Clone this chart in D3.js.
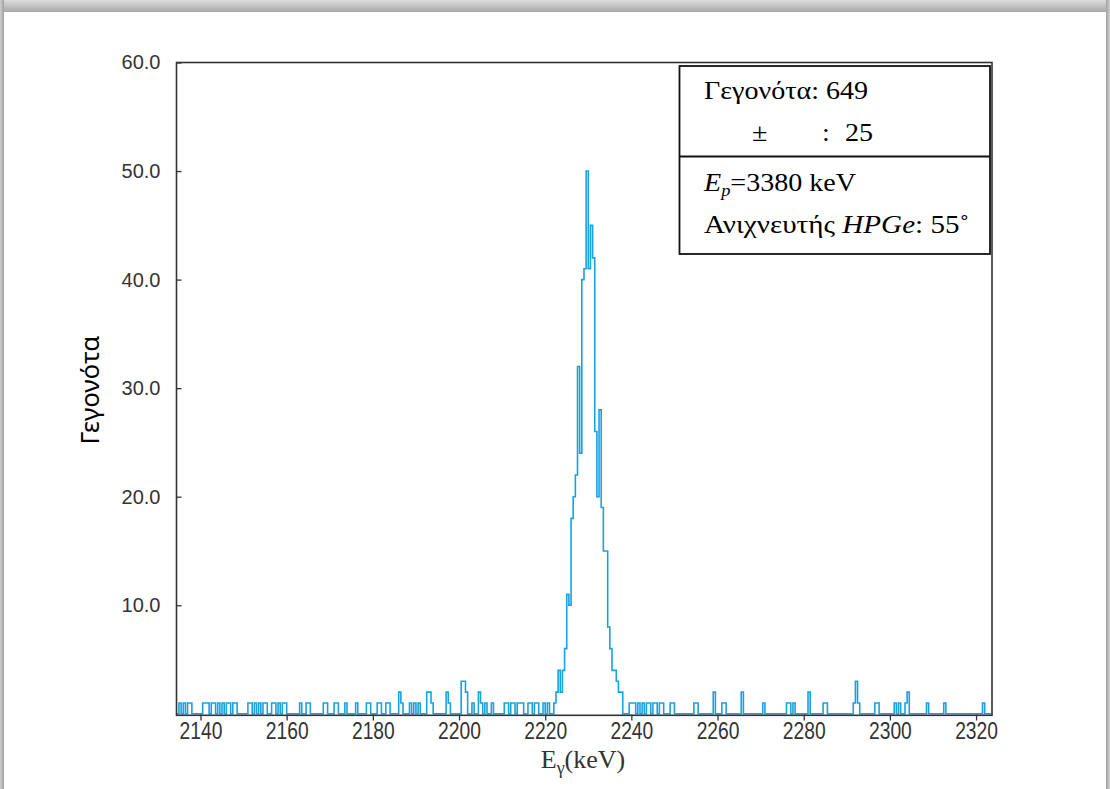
<!DOCTYPE html>
<html><head><meta charset="utf-8">
<script src="https://cdn.jsdelivr.net/npm/d3@7"></script>
<style>
html,body{margin:0;padding:0;background:#fff;}
svg{display:block;}
</style></head>
<body>
<svg id="chart" width="1110" height="789"></svg>
<script>
// ---------- data ----------
const xTickValues = [2140, 2160, 2180, 2200, 2220, 2240, 2260, 2280, 2300, 2320];
const yTickValues = [10, 20, 30, 40, 50, 60];
const binWidth = 0.5;          // keV per bin
const histStart = 2134.5;      // first bin edge (keV)
const histEnd = 2323.5;        // last bin edge (keV)
const peakStart = 2222.0;      // first bin of the peak (keV)
const peakCounts = [1, 2, 4, 2, 4, 6, 11, 10, 18, 20, 22, 32, 24, 40, 41, 50,
                    41, 45, 42, 26, 20, 28, 19, 15, 15, 8, 6, 4, 4, 3, 2, 2];
const bgEnergies = [2135.0, 2136.0, 2137.0, 2137.5,
  2140.5, 2141.0, 2141.5, 2142.5, 2143.0, 2144.0, 2145.0,
  2146.0, 2146.5, 2147.5, 2148.0,
  2151.0, 2151.5, 2152.5, 2153.5, 2154.5, 2155.0,
  2156.5, 2157.0, 2158.0, 2159.0, 2159.5,
  2163.0, 2164.5, 2165.0, 2168.5, 2169.0, 2171.0, 2171.5, 2173.5, 2176.0,
  2178.5, 2179.0, 2181.0, 2181.5, 2183.0, 2183.5,
  2186.0, 2186.5, 2188.5, 2189.5, 2190.5,
  2192.5, 2193.0, 2193.5, 2197.0, 2197.5,
  2200.5, 2201.0, 2201.5, 2203.0, 2204.5, 2205.0, 2206.0, 2207.5,
  2210.5, 2211.0, 2212.0, 2212.5, 2213.5, 2214.0, 2214.5,
  2216.0, 2216.5, 2217.5, 2218.0, 2219.5, 2220.5,
  2239.5, 2240.0, 2240.5, 2241.5,
  2242.5, 2243.5, 2244.0, 2245.0, 2245.5, 2246.5, 2247.0,
  2249.0, 2249.5, 2254.5, 2255.0, 2259.0, 2261.0, 2261.5, 2265.5, 2270.5,
  2276.0, 2276.5, 2277.5, 2281.0, 2284.5, 2285.0,
  2291.5, 2292.0, 2292.5, 2296.5, 2297.0, 2301.0, 2302.0, 2303.5, 2304.0,
  2308.5, 2312.5, 2321.5];
const bgCounts = [1, 1, 1, 1,
  1, 1, 1, 1, 1, 1, 1,
  1, 1, 1, 1,
  1, 1, 1, 1, 1, 1,
  1, 1, 1, 1, 1,
  1, 1, 1, 1, 1, 1, 1, 1, 1,
  1, 1, 1, 1, 1, 1,
  2, 1, 1, 1, 1,
  2, 2, 1, 2, 1,
  3, 3, 2, 1, 2, 1, 1, 1,
  1, 1, 1, 1, 1, 1, 1,
  1, 1, 1, 1, 1, 1,
  1, 1, 1, 1,
  1, 1, 1, 1, 1, 1, 1,
  1, 1, 1, 1, 2, 1, 1, 2, 1,
  1, 1, 1, 2, 1, 1,
  1, 3, 1, 1, 1, 1, 1, 1, 2,
  1, 1, 1];
const legendEvents = "Γεγονότα: 649";
const legendError = "25";
const legendEnergy = "3380 keV";
const legendDetector = "Ανιχνευτής ";
const legendAngle = ": 55˚";
const xTitleMain = "E", xTitleSub = "γ", xTitleUnit = "(keV)";
const yTitle = "Γεγονότα";

// ---------- layout ----------
const W = 1110, H = 789;
const plot = {left: 176.5, right: 992, top: 62.5, bottom: 714.5};
const lineColor = "#18a2df";

const svg = d3.select("#chart");
const defs = svg.append("defs");
const grad = defs.append("linearGradient").attr("id", "topg").attr("x1", 0).attr("y1", 0).attr("x2", 0).attr("y2", 1);
grad.append("stop").attr("offset", "0%").attr("stop-color", "#dcdcdc");
grad.append("stop").attr("offset", "100%").attr("stop-color", "#a9a9a9");
const sgrad = defs.append("linearGradient").attr("id", "sideg").attr("x1", 0).attr("y1", 0).attr("x2", 1).attr("y2", 0);
sgrad.append("stop").attr("offset", "0%").attr("stop-color", "#d0d0d0");
sgrad.append("stop").attr("offset", "100%").attr("stop-color", "#a0a0a0");
const sgrad2 = defs.append("linearGradient").attr("id", "sideg2").attr("x1", 0).attr("y1", 0).attr("x2", 1).attr("y2", 0);
sgrad2.append("stop").attr("offset", "0%").attr("stop-color", "#a0a0a0");
sgrad2.append("stop").attr("offset", "100%").attr("stop-color", "#d0d0d0");

svg.append("rect").attr("width", W).attr("height", H).attr("fill", "#fff");
svg.append("rect").attr("x", 0).attr("y", 0).attr("width", W).attr("height", 12).attr("fill", "url(#topg)");
svg.append("rect").attr("x", 0).attr("y", 0).attr("width", 4).attr("height", H).attr("fill", "url(#sideg)");
svg.append("rect").attr("x", W - 4).attr("y", 0).attr("width", 4).attr("height", H).attr("fill", "url(#sideg2)");

defs.append("clipPath").attr("id", "plotclip").append("rect")
  .attr("x", plot.left).attr("y", plot.top).attr("width", plot.right - plot.left).attr("height", plot.bottom - plot.top + 2);

// ---------- scales ----------
const x = d3.scaleLinear().domain([2134.43, 2323.7]).range([plot.left, plot.right]);
const y = d3.scaleLinear().domain([0, 60]).range([713.8, plot.top]);

// ---------- histogram counts ----------
const nBins = Math.round((histEnd - histStart) / binWidth);
const counts = new Array(nBins).fill(0);
bgEnergies.forEach((e, i) => {
  const k = Math.round((e - histStart) / binWidth);
  if (k >= 0 && k < nBins) counts[k] = bgCounts[i];
});
peakCounts.forEach((c, i) => {
  const k = Math.round((peakStart + i * binWidth - histStart) / binWidth);
  if (k >= 0 && k < nBins) counts[k] = c;
});
const pts = counts.map((c, i) => [histStart + i * binWidth, c]);
pts.push([histEnd, counts[nBins - 1]]);

// ---------- axes ----------
const xAxis = d3.axisBottom(x).tickValues(xTickValues).tickSize(6).tickFormat(d3.format("d"));
const gx = svg.append("g").attr("transform", `translate(0,${plot.bottom})`).call(xAxis);
gx.select(".domain").remove();
gx.selectAll(".tick line").attr("stroke", "#333").attr("stroke-width", 1.3);
gx.selectAll(".tick text")
  .attr("y", 24.5).attr("dy", null)
  .attr("transform", "scale(0.82,1)")
  .attr("fill", "#333")
  .style("font-family", "'Liberation Sans', Arial, sans-serif")
  .style("font-size", "23.5px");

const yAxis = d3.axisLeft(y).tickValues(yTickValues).tickSize(-5).tickPadding(16).tickFormat(d3.format(".1f"));
const gy = svg.append("g").attr("transform", `translate(${plot.left},0)`).call(yAxis);
gy.select(".domain").remove();
gy.selectAll(".tick line").attr("stroke", "#333").attr("stroke-width", 1.3);
gy.selectAll(".tick text")
  .attr("fill", "#333")
  .style("font-family", "'Liberation Sans', Arial, sans-serif")
  .style("font-size", "20px");

// ---------- histogram ----------
const line = d3.line().x(d => x(d[0])).y(d => y(d[1])).curve(d3.curveStepAfter);
svg.append("path")
  .datum(pts)
  .attr("clip-path", "url(#plotclip)")
  .attr("d", line)
  .attr("fill", "none")
  .attr("stroke", lineColor)
  .attr("stroke-width", 1.6)
  .attr("stroke-linejoin", "miter");

// frame
svg.append("rect")
  .attr("x", plot.left).attr("y", plot.top)
  .attr("width", plot.right - plot.left).attr("height", plot.bottom - plot.top + 0.8)
  .attr("fill", "none").attr("stroke", "#333").attr("stroke-width", 1.6);

// ---------- axis titles ----------
const xt = svg.append("text")
  .attr("x", 583).attr("y", 768)
  .attr("text-anchor", "middle")
  .style("font-family", "'Liberation Serif', 'Times New Roman', serif")
  .style("font-size", "26px").attr("fill", "#333");
xt.append("tspan").text(xTitleMain);
xt.append("tspan").attr("dy", 6).style("font-size", "18px").text(xTitleSub);
xt.append("tspan").attr("dy", -6).text(xTitleUnit);

svg.append("text")
  .attr("transform", "translate(99,390) rotate(-90)")
  .attr("text-anchor", "middle")
  .style("font-family", "'Noto Sans', 'Liberation Sans', Arial, sans-serif")
  .style("font-size", "26px").attr("fill", "#000")
  .text(yTitle);

// ---------- legend box ----------
const lg = svg.append("g");
lg.append("rect").attr("x", 679.5).attr("y", 66).attr("width", 310.5).attr("height", 188)
  .attr("fill", "#fff").attr("stroke", "#111").attr("stroke-width", 1.8);
lg.append("line").attr("x1", 679.5).attr("x2", 990).attr("y1", 156.5).attr("y2", 156.5)
  .attr("stroke", "#111").attr("stroke-width", 1.8);
const serif = "'Liberation Serif', 'Times New Roman', serif";
function ltext(xp, yp, sx) {
  return lg.append("text").attr("transform", `translate(${xp},${yp}) scale(${sx || 1.08},1)`)
    .style("font-family", serif).style("font-size", "26px").attr("fill", "#000");
}
ltext(704, 99).text(legendEvents);
ltext(752, 141).text("±");
ltext(822, 141).text(":");
ltext(845, 141).text(legendError);
const t3 = ltext(704, 191);
t3.append("tspan").style("font-style", "italic").text("E");
t3.append("tspan").style("font-style", "italic").style("font-size", "17px").attr("dy", 5).text("p");
t3.append("tspan").attr("dy", -5).text("=" + legendEnergy);
const t4 = ltext(704, 233, 1.12);
t4.append("tspan").text(legendDetector);
t4.append("tspan").style("font-style", "italic").text("HPGe");
t4.append("tspan").text(legendAngle);
</script>
</body></html>
